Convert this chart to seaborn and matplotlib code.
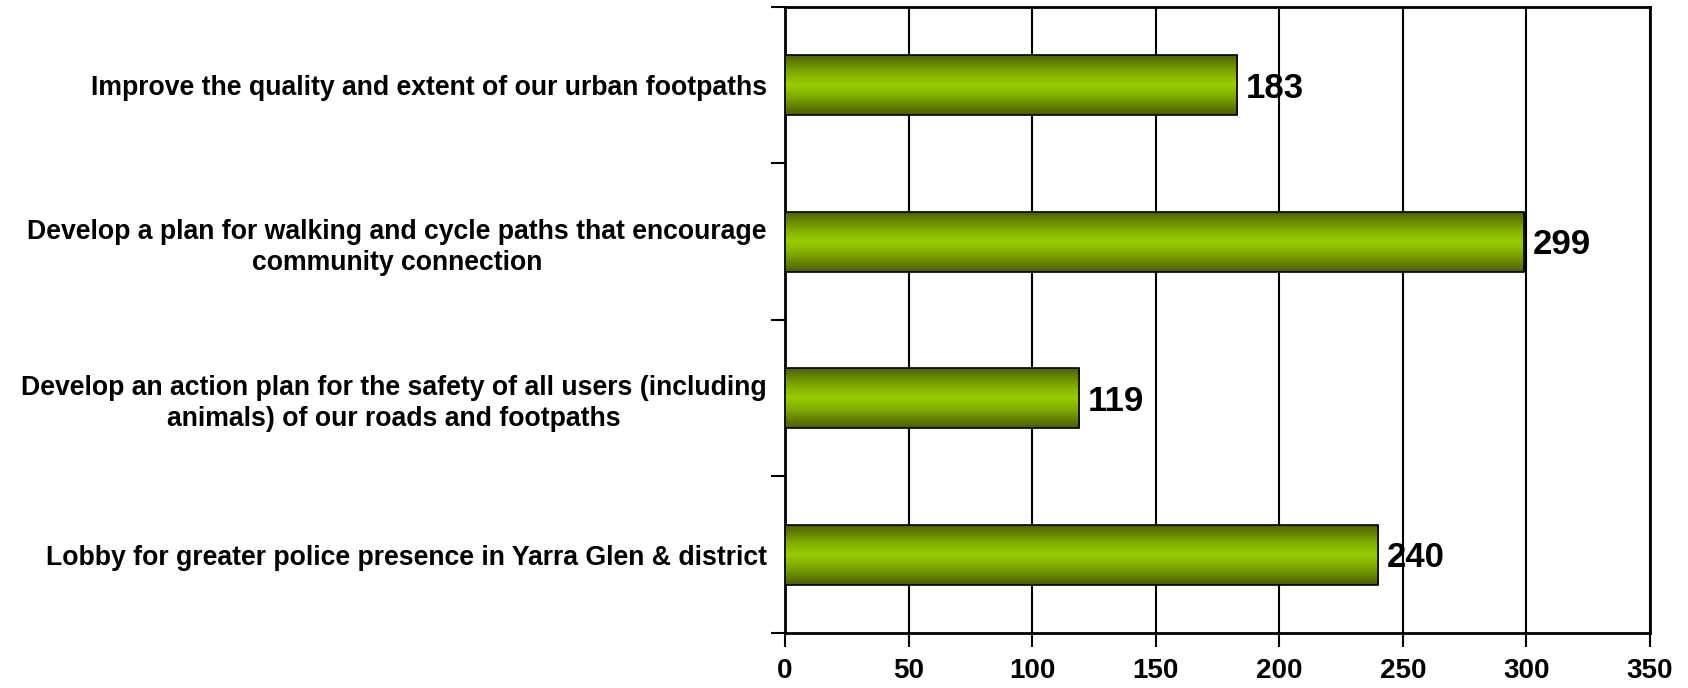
import numpy as np
import pandas as pd
import matplotlib
matplotlib.use("Agg")
import matplotlib.pyplot as plt
from matplotlib.colors import LinearSegmentedColormap
import seaborn as sns

# chart data
categories = [
    "Improve the quality and extent of our urban footpaths",
    "Develop a plan for walking and cycle paths that encourage\ncommunity connection",
    "Develop an action plan for the safety of all users (including\nanimals) of our roads and footpaths",
    "Lobby for greater police presence in Yarra Glen & district",
]
values = [183, 299, 119, 240]
x_ticks = [0, 50, 100, 150, 200, 250, 300, 350]

df = pd.DataFrame({"item": categories, "count": values})

sns.set_style("white")
plt.rcParams["font.family"] = ["Liberation Sans", "DejaVu Sans"]
plt.rcParams["text.color"] = "black"
plt.rcParams["xtick.color"] = "black"
plt.rcParams["ytick.color"] = "black"

fig = plt.figure(figsize=(16.88, 6.88), dpi=100)
ax = fig.add_axes([0.465, 0.080, 0.5125, 0.910])

sns.barplot(data=df, x="count", y="item", orient="h", width=0.385,
            color="#99cc00", edgecolor="black", linewidth=1.2, ax=ax, zorder=3)

# vertical gradient fill clipped to each bar
grad = LinearSegmentedColormap.from_list(
    "olive", [(0, "#4a5c00"), (0.3, "#80aa00"), (0.5, "#9acc00"),
              (0.7, "#80aa00"), (1, "#4a5c00")])
shade = np.linspace(0, 1, 256).reshape(-1, 1)
for patch in ax.patches:
    x0, y0 = patch.get_x(), patch.get_y()
    w, h = patch.get_width(), patch.get_height()
    im = ax.imshow(shade, cmap=grad, aspect="auto",
                   extent=(x0, x0 + w, y0 + h, y0), zorder=3.5)
    im.set_clip_path(patch)
    patch.set_facecolor("none")
    patch.set_zorder(4)

# value labels
for i, v in enumerate(values):
    ax.text(v + 3.5, i + 0.02, str(v), va="center", ha="left",
            fontsize=25, fontweight="bold", color="black", zorder=5)

ax.set_xlim(0, 350)
ax.set_ylim(3.5, -0.5)
ax.set_xticks(x_ticks)
ax.set_xticklabels([str(t) for t in x_ticks], fontsize=20, fontweight="bold")
ax.set_yticks(range(len(categories)))
ax.set_yticklabels(categories, fontsize=19.2, fontweight="bold",
                   multialignment="center", linespacing=1.25)
ax.set_yticks(np.arange(-0.5, len(categories)), minor=True)
ax.tick_params(axis="y", which="major", length=0, pad=13)
ax.tick_params(axis="y", which="minor", length=10, width=1.5,
               color="black", direction="out", left=True)
ax.tick_params(axis="x", length=10, width=1.5, color="black",
               direction="out", bottom=True, pad=8)

ax.grid(axis="x", color="black", linewidth=1.5, zorder=0)
ax.set_axisbelow(True)
for s in ax.spines.values():
    s.set_visible(True)
    s.set_color("black")
    s.set_linewidth(2)

ax.set_xlabel("")
ax.set_ylabel("")

fig.savefig("out.png", dpi=100, facecolor="white")
